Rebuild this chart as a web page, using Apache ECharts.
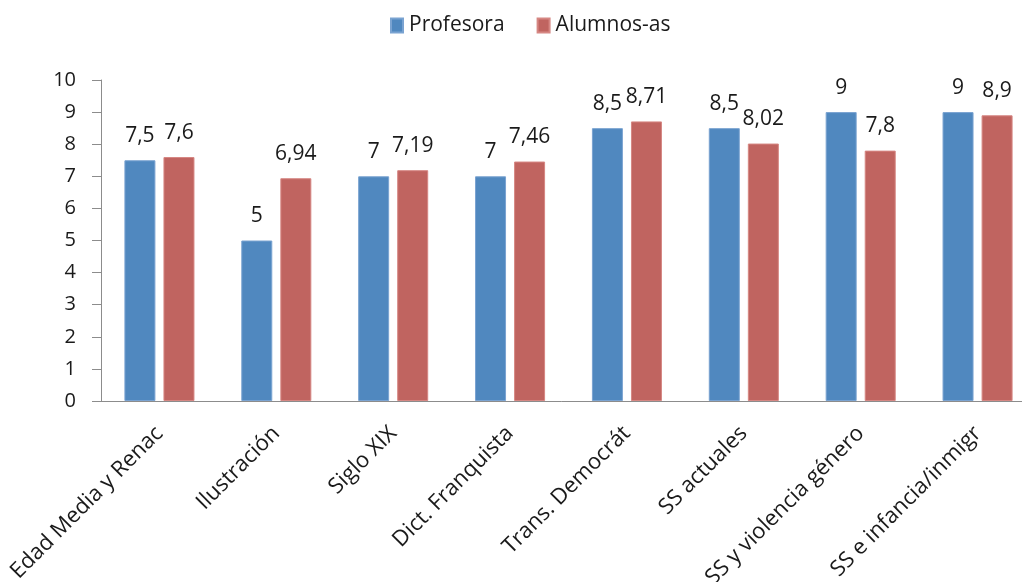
<!DOCTYPE html>
<html>
<head>
<meta charset="utf-8">
<script src="https://cdn.jsdelivr.net/npm/echarts@6/dist/echarts.min.js"></script>
<style>
  html, body { margin: 0; padding: 0; background: #fff; }
  #chart { width: 1022px; height: 582px; }
</style>
</head>
<body>
<div id="chart"></div>
<script>
const categories = ['Edad Media y Renac', 'Ilustración', 'Siglo XIX', 'Dict. Franquista',
  'Trans. Democrát', 'SS actuales', 'SS y violencia género', 'SS e infancia/inmigr']
const profesora = [7.5, 5, 7, 7, 8.5, 8.5, 9, 9]
const alumnos = [7.6, 6.94, 7.19, 7.46, 8.71, 8.02, 7.8, 8.9]
const yTicks = [0, 10, 1]

const font = '"Open Sans", "Noto Sans", sans-serif'
const textColor = '#1a1a1a'

const chart = echarts.init(document.getElementById('chart'))

const labelOpt = {
  show: true,
  position: 'top',
  distance: 14,
  color: textColor,
  fontFamily: font,
  fontSize: 21,
  formatter: p => String(p.value).replace('.', ',')
}

const option = {
  animation: false,
  textStyle: { fontFamily: font },
  legend: {
    top: 15,
    left: 390,
    padding: 0,
    itemWidth: 12,
    itemHeight: 14,
    itemGap: 32,
    icon: 'rect',
    textStyle: { color: textColor, fontSize: 21, fontFamily: font, padding: [0, 0, 0, 1] },
    data: ['Profesora', 'Alumnos-as']
  },
  grid: { left: 101, width: 935, top: 80, height: 321, outerBoundsMode: 'none' },
  xAxis: {
    type: 'category',
    data: categories,
    axisLine: { lineStyle: { color: '#8c8c8c', width: 1 } },
    axisTick: { show: false },
    axisLabel: {
      rotate: 45,
      interval: 0,
      margin: 29,
      color: textColor,
      fontSize: 22,
      fontFamily: font
    }
  },
  yAxis: {
    type: 'value',
    min: yTicks[0],
    max: yTicks[1],
    interval: yTicks[2],
    splitLine: { show: false },
    axisLine: { show: true, lineStyle: { color: '#8c8c8c', width: 1 } },
    axisTick: { show: true, length: 9, lineStyle: { color: '#8c8c8c' } },
    axisLabel: { color: textColor, fontSize: 20, fontFamily: font, margin: 25 }
  },
  series: [
    {
      name: 'Profesora',
      type: 'bar',
      data: profesora,
      barWidth: 31,
      barGap: '26%',
      itemStyle: { color: '#5088BF', borderColor: '#7aa3d1', borderWidth: 1 },
      label: labelOpt
    },
    {
      name: 'Alumnos-as',
      type: 'bar',
      data: alumnos,
      barWidth: 31,
      barGap: '26%',
      itemStyle: { color: '#C06460', borderColor: '#d68783', borderWidth: 1 },
      label: labelOpt
    }
  ]
}

chart.setOption(option)
</script>
</body>
</html>
